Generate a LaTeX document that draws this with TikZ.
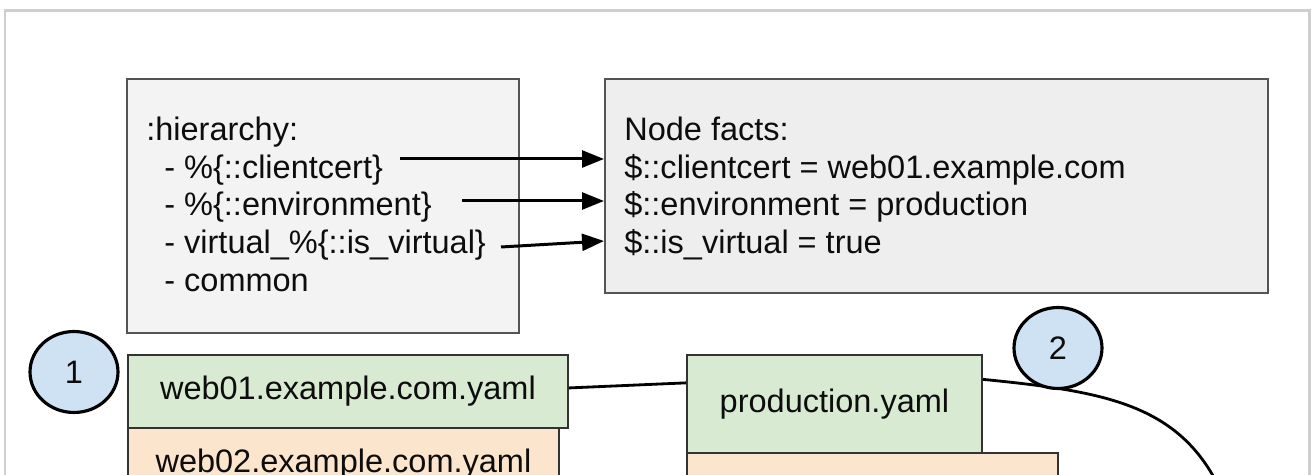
\documentclass[tikz,border=0pt]{standalone}
\usepackage{fontspec}
\setmainfont{Liberation Sans}
\usetikzlibrary{arrows.meta,shapes.geometric}
\definecolor{framegray}{HTML}{CFCFCF}
\definecolor{boxline}{HTML}{545454}
\definecolor{hieragray}{HTML}{F3F3F3}
\definecolor{factgray}{HTML}{EEEEEE}
\definecolor{yamlgreen}{HTML}{D9EAD3}
\definecolor{yamlorange}{HTML}{FCE5CD}
\definecolor{badgeblue}{HTML}{CFE2F3}
\tikzset{every node/.style={inner sep=0pt, text=black!95, font=\fontsize{18.5}{22}\selectfont}}
\tikzset{note/.style={draw=boxline, line width=1.1pt, anchor=north west},
  yaml/.style={draw=black!80, line width=1.1pt, anchor=north west},
  textline/.style={anchor=base west},
  badge/.style={ellipse, draw=black, line width=1.8pt, fill=badgeblue, minimum width=1.76cm, minimum height=1.62cm},
  link/.style={black, line width=1.6pt},
  arr/.style={black, line width=1.7pt, -{Triangle[length=12.5pt,width=9.6pt]}},
  frame/.style={framegray, line width=1.7pt}}

\begin{document}
\begin{tikzpicture}[x=0.02cm, y=-0.02cm]
  \clip (0,0) rectangle (1313,475);
  \draw[frame] (5,11) rectangle (1309,520);
  \node[note, fill=hieragray, minimum width=7.84cm, minimum height=5.08cm] (hiera) at (126, 78) {};
  \node[note, fill=factgray, minimum width=13.26cm, minimum height=4.28cm] (facts) at (604, 78) {};
  \node[textline] (h0) at (146,141) {:hierarchy:};
  \node[textline] (h1) at (164,179) {- \%\{::clientcert\}};
  \node[textline] (h2) at (164,216) {- \%\{::environment\}};
  \node[textline] (h3) at (164,254) {- virtual\_\%\{::is\_virtual\}};
  \node[textline] (h4) at (164,292) {- common};
  \node[textline] (f0) at (624,141) {Node facts:};
  \node[textline] (f1) at (624,179) {\$::clientcert = web01.example.com};
  \node[textline] (f2) at (624,216) {\$::environment = production};
  \node[textline] (f3) at (624,254) {\$::is\_virtual = true};
  \coordinate (a1) at (400,159);
  \coordinate (a2) at (462,201);
  \coordinate (a3) at (501,247);
  \draw[arr] (a1) -- (a1 -| facts.west);
  \draw[arr] (a2) -- (a2 -| facts.west);
  \draw[arr] (a3) -- ([yshift=3.4pt]a3 -| facts.west);
  \node[yaml, fill=yamlorange, minimum width=8.62cm, minimum height=1.46cm] (web2) at (127,427) {web02.example.com.yaml};
  \node[yaml, fill=yamlgreen, minimum width=8.8cm, minimum height=1.46cm] (web1) at (127,354) {web01.example.com.yaml};
  \node[yaml, fill=yamlorange, minimum width=7.42cm, minimum height=1.96cm] (prod2) at (686,452) {};
  \node[yaml, fill=yamlgreen, minimum width=5.9cm, minimum height=1.96cm] (prod) at (686,354) {production.yaml};
  \coordinate (tail) at (1225,500);
  \draw[link] ([yshift=2pt]web1.east) -- ([yshift=12pt]prod.west);
  \draw[link] ([yshift=14pt]prod.east) .. controls (1110,392) and (1185,405) .. (tail);
  \node[badge] (one) at (74,372) {1};
  \node[badge] (two) at (1058,348) {2};
\end{tikzpicture}
\end{document}
